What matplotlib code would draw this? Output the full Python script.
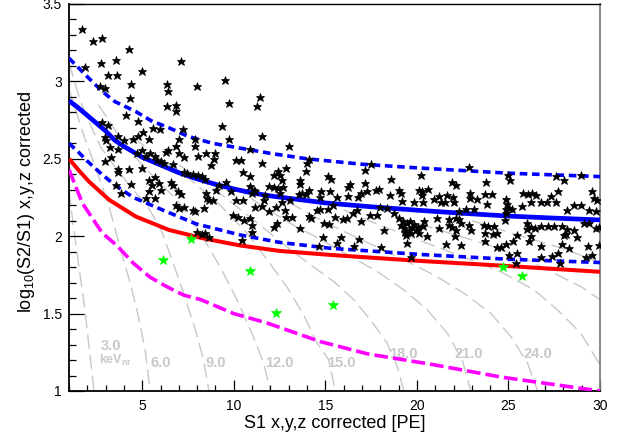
import matplotlib
matplotlib.use("Agg")
import matplotlib.pyplot as plt
from matplotlib.ticker import MultipleLocator, FuncFormatter

plt.rcParams['font.family'] = ['Liberation Sans', 'DejaVu Sans']
plt.rcParams['mathtext.fontset'] = 'custom'
plt.rcParams['mathtext.rm'] = 'Liberation Sans'
plt.rcParams['mathtext.it'] = 'Liberation Sans:italic'
plt.rcParams['mathtext.bf'] = 'Liberation Sans:bold'

# ---- data ----
# ER calibration events (S1, log10(S2/S1))
stars = [
    (1.69, 3.34), (2.31, 3.26), (2.82, 3.28), (4.25, 3.21), (3.55, 3.14), (2.77, 3.12), (1.88, 3.09),
    (7.09, 3.13), (4.98, 3.07), (3.12, 3.04), (3.64, 3.04), (9.50, 3.01), (4.37, 2.98), (2.71, 2.97),
    (2.95, 2.96), (6.34, 2.98), (6.40, 2.94), (7.97, 2.97), (11.43, 2.90), (4.34, 2.89), (9.75, 2.86),
    (6.34, 2.84), (6.82, 2.85), (6.82, 2.81), (11.27, 2.84), (4.12, 2.78), (4.76, 2.745), (2.79, 2.74),
    (3.13, 2.72), (9.35, 2.715), (7.20, 2.69), (5.61, 2.70), (5.96, 2.69), (5.05, 2.67), (4.79, 2.65),
    (3.70, 2.65), (2.97, 2.64), (4.50, 2.63), (7.02, 2.63), (7.87, 2.63), (9.75, 2.63), (11.54, 2.65),
    (3.00, 2.62), (3.99, 2.62), (5.38, 2.63),
    (3.22, 2.575), (3.66, 2.562), (2.97, 2.483), (3.28, 2.51), (4.98, 2.554), (4.74, 2.537), (5.23, 2.52),
    (5.43, 2.537), (5.70, 2.52), (5.78, 2.493), (6.01, 2.483), (6.29, 2.547), (6.43, 2.554), (6.21, 2.472),
    (6.87, 2.58), (7.02, 2.537), (6.69, 2.468), (7.29, 2.51), (7.89, 2.58), (8.02, 2.515), (8.48, 2.537),
    (8.99, 2.537), (8.93, 2.498), (8.75, 2.461), (10.12, 2.493), (10.39, 2.493), (10.48, 2.412),
    (7.29, 2.412), (7.47, 2.407), (7.75, 2.403), (8.02, 2.396), (8.29, 2.386), (8.44, 2.368),
    (4.25, 2.433), (3.66, 2.433), (3.66, 2.414), (4.98, 2.44), (5.38, 2.364), (5.70, 2.381), (5.92, 2.343),
    (5.52, 2.332), (6.01, 2.30), (5.38, 2.289), (5.23, 2.246), (5.70, 2.246), (6.56, 2.353), (6.69, 2.332),
    (6.93, 2.295), (7.11, 2.274), (6.84, 2.202), (7.02, 2.181), (7.29, 2.187), (7.75, 2.17), (7.89, 2.16),
    (8.39, 2.181), (8.48, 2.278), (8.66, 2.235), (8.84, 2.235), (8.51, 2.246), (9.02, 2.30), (9.21, 2.332),
    (9.57, 2.353), (9.84, 2.289), (10.12, 2.235), (9.94, 2.138), (10.21, 2.127), (10.48, 2.235),
    (10.57, 2.106), (3.55, 2.332), (4.37, 2.336), (3.83, 2.282), (7.97, 2.024), (8.26, 2.015),
    (8.44, 2.019), (8.66, 1.998), (10.45, 1.976),
    (13.0, 2.58), (10.9, 2.562), (11.54, 2.472), (14.09, 2.498), (14.0, 2.472), (13.97, 2.424),
    (12.87, 2.44), (12.4, 2.424), (12.18, 2.396), (12.54, 2.396), (10.9, 2.386), (12.63, 2.364),
    (13.6, 2.364), (13.64, 2.338), (15.13, 2.386), (15.31, 2.368), (16.34, 2.338), (16.23, 2.321),
    (17.14, 2.343), (18.6, 2.368), (17.14, 2.429), (17.47, 2.468), (11.91, 2.325), (12.22, 2.321),
    (12.4, 2.31), (12.69, 2.321), (10.9, 2.325), (11.08, 2.30), (11.18, 2.295), (11.0, 2.282),
    (11.72, 2.267), (11.67, 2.235), (12.54, 2.278), (12.63, 2.224), (13.09, 2.235), (13.55, 2.274),
    (13.73, 2.282), (13.97, 2.274), (14.09, 2.30), (14.77, 2.295), (15.24, 2.289), (14.73, 2.256),
    (15.42, 2.202), (15.64, 2.256), (16.23, 2.26), (16.77, 2.252), (16.92, 2.282), (17.28, 2.295),
    (17.74, 2.30), (17.92, 2.304), (18.52, 2.267), (19.02, 2.30), (19.11, 2.282), (19.2, 2.23),
    (19.84, 2.224), (20.11, 2.30), (11.18, 2.187), (11.54, 2.196), (12.32, 2.187), (11.91, 2.16),
    (12.82, 2.17), (12.87, 2.127), (13.18, 2.127), (10.9, 2.116), (10.99, 2.073), (12.18, 2.058),
    (10.99, 2.03), (14.09, 2.131), (14.22, 2.116), (14.55, 2.17), (14.73, 2.175), (15.13, 2.175),
    (14.91, 2.084), (15.19, 2.08), (15.55, 2.127), (15.97, 2.11), (16.19, 2.116), (16.52, 2.153),
    (16.74, 2.17), (16.96, 2.095), (17.43, 2.138), (17.83, 2.138), (18.01, 2.187), (18.38, 2.181),
    (18.74, 2.149), (18.23, 2.041), (19.02, 2.116), (19.15, 2.073), (19.29, 2.052), (19.47, 2.084),
    (19.56, 2.041), (19.75, 2.062), (19.93, 2.041), (19.38, 2.009), (19.47, 1.955), (20.11, 2.019),
    (19.25, 2.095), (19.6, 2.10), (19.85, 2.08), (19.35, 2.03), (19.7, 2.02), (20.05, 2.06),
    (13.6, 2.052), (14.88, 1.998), (15.83, 1.998), (15.64, 1.959), (14.64, 1.937), (16.56, 1.937),
    (16.83, 1.98), (18.05, 1.933), (19.69, 1.864), (12.36, 2.084),
    (22.85, 2.446), (20.2, 2.397), (23.76, 2.353), (21.93, 2.347), (22.12, 2.332), (25.0, 2.397),
    (25.07, 2.364), (27.62, 2.386), (28.04, 2.36), (28.95, 2.397), (20.62, 2.304), (20.29, 2.295),
    (20.29, 2.267), (20.33, 2.224), (21.2, 2.26), (21.66, 2.267), (21.99, 2.252), (20.93, 2.239),
    (21.3, 2.224), (21.53, 2.218), (22.03, 2.218), (22.88, 2.278), (22.88, 2.246), (23.3, 2.239),
    (23.72, 2.274), (24.09, 2.274), (23.85, 2.209), (24.89, 2.239), (24.94, 2.209), (25.73, 2.196),
    (25.8, 2.282), (26.09, 2.274), (26.31, 2.282), (26.53, 2.267), (26.22, 2.224), (26.77, 2.218),
    (27.31, 2.26), (27.73, 2.295), (27.08, 2.218), (27.59, 2.224), (28.22, 2.17), (28.59, 2.202),
    (28.95, 2.202), (29.59, 2.289), (29.68, 2.246), (29.86, 2.235), (29.41, 2.17), (29.77, 2.16),
    (22.66, 2.175), (23.12, 2.175), (22.3, 2.166), (24.85, 2.175), (25.03, 2.181), (25.22, 2.175),
    (24.89, 2.153), (24.81, 2.106), (22.15, 2.116), (21.75, 2.11), (21.11, 2.116), (20.38, 2.095),
    (20.33, 2.067), (21.2, 2.052), (21.75, 2.073), (21.93, 2.062), (22.12, 2.041), (22.3, 2.11),
    (22.39, 2.084), (22.85, 2.073), (22.94, 2.041), (20.57, 2.002), (22.08, 2.002), (21.57, 1.95),
    (22.39, 1.944), (23.67, 2.073), (23.9, 2.067), (24.21, 2.067), (23.72, 2.019), (24.16, 2.015),
    (24.4, 2.019), (23.72, 1.966), (24.4, 1.929), (24.58, 1.929), (24.85, 1.95), (25.25, 1.972),
    (25.49, 2.009), (26.04, 2.088), (26.04, 2.045), (26.22, 2.002), (26.22, 2.058), (26.46, 2.052),
    (26.77, 2.067), (27.18, 2.067), (27.5, 2.067), (27.95, 2.067), (28.22, 2.045), (28.04, 2.009),
    (28.17, 2.015), (27.95, 1.95), (28.32, 1.922), (28.59, 2.041), (28.77, 1.998), (29.14, 2.084),
    (29.41, 2.084), (29.77, 2.052), (29.92, 2.062), (29.32, 1.937), (29.92, 1.944), (26.77, 1.937),
    (26.13, 1.966), (25.03, 1.879), (25.43, 1.83), (25.49, 1.89), (26.77, 1.868), (27.4, 1.873),
    (27.73, 1.89), (27.8, 1.83), (29.23, 1.868), (29.59, 1.879),
]

# WIMP-search candidates below the ER band
green_stars = [(6.16, 1.847), (7.67, 1.983), (10.86, 1.776), (12.29, 1.502),
               (15.43, 1.556), (24.7, 1.804), (25.76, 1.743)]

# band curves
er_median = [(1.0, 2.875), (1.5, 2.83), (2.0, 2.78), (2.5, 2.73), (3.0, 2.68), (3.5, 2.62), (4.0, 2.58),
             (5.0, 2.51), (6.0, 2.46), (7.0, 2.41), (8.0, 2.37), (9.0, 2.335), (10.0, 2.305),
             (11.0, 2.28), (12.0, 2.26), (13.0, 2.245), (15.0, 2.215), (17.5, 2.19), (20.0, 2.168),
             (22.5, 2.148), (25.0, 2.13), (27.5, 2.117), (30.0, 2.105)]
er_upper = [(1.0, 3.15), (2.0, 3.03), (2.82, 2.935), (3.5, 2.87), (4.65, 2.805), (5.5, 2.745),
            (6.47, 2.70), (7.5, 2.645), (8.84, 2.60), (10.35, 2.569), (12.0, 2.535), (14.0, 2.50),
            (17.0, 2.465), (20.2, 2.44), (25.0, 2.407), (30.0, 2.385)]
er_lower = [(1.0, 2.60), (1.5, 2.545), (2.0, 2.485), (2.7, 2.41), (3.5, 2.33), (4.52, 2.25),
            (6.1, 2.17), (7.93, 2.08), (10.35, 2.008), (12.5, 1.96), (15.28, 1.922), (20.2, 1.882),
            (25.0, 1.851), (30.0, 1.83)]
nr_median = [(1.0, 2.50), (1.5, 2.43), (2.09, 2.353), (3.19, 2.235), (4.65, 2.127), (6.47, 2.04),
             (8.29, 1.987), (10.35, 1.94), (12.5, 1.905), (15.28, 1.879), (20.2, 1.84), (24.6, 1.81),
             (30.0, 1.77)]
nr_lower = [(1.0, 2.43), (1.73, 2.213), (2.82, 2.02), (3.61, 1.94), (4.52, 1.825), (5.43, 1.735),
            (6.34, 1.674), (7.25, 1.62), (8.2, 1.59), (10.0, 1.50), (11.8, 1.44), (14.7, 1.32),
            (17.3, 1.24), (20.9, 1.17), (24.6, 1.09), (30.0, 1.0)]

# constant-energy contours [keVnr]
contour_kev = [3, 6, 9, 12, 15, 18, 21, 24, 27, 30, 33]
contour_pts = [
    [(1.0, 2.30), (1.18, 2.12), (1.46, 1.87), (1.82, 1.57), (2.09, 1.29), (2.37, 1.0)],
    [(1.0, 2.95), (1.84, 2.64), (2.37, 2.47), (3.19, 2.19), (3.85, 1.90), (4.34, 1.70), (4.79, 1.48),
     (5.16, 1.265), (5.43, 1.0)],
    [(1.0, 3.12), (1.5, 2.92), (1.93, 2.78), (2.75, 2.57), (3.5, 2.45), (4.5, 2.30), (5.25, 2.20),
     (6.0, 2.05), (6.71, 1.82), (7.35, 1.60), (7.89, 1.40), (8.35, 1.20), (8.64, 1.0)],
    [(2.6, 2.85), (4.0, 2.60), (5.0, 2.46), (6.0, 2.34), (6.89, 2.235), (8.17, 2.02), (9.26, 1.80),
     (10.17, 1.59), (10.99, 1.373), (11.63, 1.18), (12.0, 1.0)],
    [(4.5, 2.64), (6.0, 2.50), (7.5, 2.38), (9.26, 2.20), (10.72, 2.02), (11.81, 1.85), (12.91, 1.67),
     (13.82, 1.49), (14.55, 1.31), (15.19, 1.20), (15.55, 1.0)],
    [(7.0, 2.46), (9.0, 2.30), (11.45, 2.07), (12.91, 1.93), (14.19, 1.815), (15.46, 1.707),
     (16.56, 1.589), (17.47, 1.459), (18.38, 1.308), (18.93, 1.158), (19.29, 1.0)],
    [(10.0, 2.32), (11.5, 2.20), (13.27, 2.07), (14.73, 1.98), (16.37, 1.869), (17.83, 1.772),
     (19.29, 1.653), (20.57, 1.524), (21.66, 1.373), (22.48, 1.20), (22.94, 1.0)],
    [(13.0, 2.22), (14.5, 2.12), (16.01, 2.03), (17.65, 1.94), (19.29, 1.847), (20.93, 1.75),
     (22.57, 1.632), (24.03, 1.502), (25.13, 1.352), (26.04, 1.18), (26.6, 1.0)],
    [(16.0, 2.17), (18.0, 2.07), (20.0, 1.98), (22.0, 1.89), (24.58, 1.77), (26.4, 1.653),
     (27.68, 1.524), (28.95, 1.373), (30.0, 1.17)],
    [(19.0, 2.12), (21.5, 2.03), (24.0, 1.94), (26.0, 1.85), (27.5, 1.76), (28.95, 1.675), (30.0, 1.59)],
    [(23.0, 2.10), (26.0, 1.99), (28.0, 1.92), (30.0, 1.83)],
]
label_text = ['3.0', '6.0', '9.0', '12.0', '15.0', '18.0', '21.0', '24.0']
label_x = [2.73, 5.43, 8.44, 11.72, 15.10, 18.47, 22.08, 25.82]
label_y = [1.265, 1.158, 1.158, 1.158, 1.158, 1.212, 1.212, 1.212]

GREY = '#c8c8c8'

fig = plt.figure(figsize=(6.29, 4.42), dpi=100)
ax = fig.add_axes([69 / 629, 51 / 442, 531 / 629, 387 / 442])

# contours
for pts in contour_pts:
    xs, ys = zip(*pts)
    ax.plot(xs, ys, color=GREY, lw=1.0, dashes=(10.5, 4.5), zorder=1)
for t, x, y in zip(label_text, label_x, label_y):
    ax.text(x, y, t, color=GREY, fontsize=10.5, fontweight='bold', va='baseline', ha='left', zorder=2)
ax.text(2.64, 1.172, r'keV$_{\mathregular{nr}}$', color=GREY, fontsize=9, fontweight='bold',
        va='baseline', ha='left', zorder=2)

# bands
def draw(pts, **kw):
    xs, ys = zip(*pts)
    ax.plot(xs, ys, zorder=3, solid_capstyle='butt', dash_capstyle='butt', **kw)

draw(er_upper, color='#0000ff', lw=2.6, dashes=(2.1, 1.3))
draw(er_lower, color='#0000ff', lw=2.6, dashes=(2.1, 1.3))
draw(er_median, color='#0000ff', lw=3.4)
draw(nr_median, color='#ff0000', lw=2.9)
draw(nr_lower, color='#ff00ff', lw=2.6, dashes=(3.8, 1.4))

sx, sy = zip(*stars)
ax.plot(sx, sy, ls='none', marker='*', ms=6.4, color='black', mew=0.5, zorder=4)
gx, gy = zip(*green_stars)
ax.plot(gx, gy, ls='none', marker='*', ms=7, color='#00ff00', mew=0.5, zorder=5)

ax.set_xlim(1, 30)
ax.set_ylim(1, 3.5)
ax.xaxis.set_major_locator(MultipleLocator(5))
ax.xaxis.set_minor_locator(MultipleLocator(1))
ax.yaxis.set_major_locator(MultipleLocator(0.5))
ax.yaxis.set_minor_locator(MultipleLocator(0.1))
fmt = FuncFormatter(lambda v, p: '%g' % v)
ax.xaxis.set_major_formatter(fmt)
ax.yaxis.set_major_formatter(fmt)
ax.tick_params(which='both', direction='in', top=False, right=False, width=0.9, labelsize=10)
ax.tick_params(axis='y', which='major', length=10.5, pad=5)
ax.tick_params(axis='y', which='minor', length=5)
ax.tick_params(axis='x', which='major', length=8, pad=6)
ax.tick_params(axis='x', which='minor', length=4.3)
for s in ['left', 'bottom']:
    ax.spines[s].set_linewidth(1.3)
ax.spines['top'].set_linewidth(1.0)
ax.spines['right'].set_linewidth(1.3)
ax.spines['right'].set_color('#808080')

fig.text(334.5 / 629, 1 - 424 / 442, 'S1 x,y,z corrected [PE]', ha='center', va='center', fontsize=13)
fig.text(27 / 629, 1 - 202 / 442, r'log$_{\mathregular{10}}$(S2/S1) x,y,z corrected',
         rotation=90, ha='center', va='center', fontsize=13)

fig.savefig('out.png', dpi=100)
